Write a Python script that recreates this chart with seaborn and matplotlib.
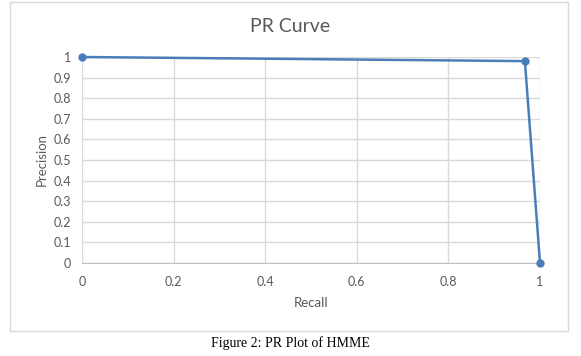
import pandas as pd
import matplotlib.pyplot as plt
import seaborn as sns
from matplotlib.patches import Rectangle

# PR curve values
recall = [0.0, 0.967, 1.0]
precision = [1.0, 0.98, 0.0]
x_ticks = [0, 0.2, 0.4, 0.6, 0.8, 1]
y_ticks = [0, 0.1, 0.2, 0.3, 0.4, 0.5, 0.6, 0.7, 0.8, 0.9, 1]

df = pd.DataFrame({'Recall': recall, 'Precision': precision})

sns.set_style('white')
plt.rcParams['font.family'] = ['Lato', 'DejaVu Sans']

fig = plt.figure(figsize=(5.81, 3.56), dpi=100)

# chart border like the excel frame
fig.patches.append(Rectangle((10 / 581, 25 / 356), 558 / 581, 329 / 356,
                             transform=fig.transFigure, fill=False,
                             edgecolor='#d9d9d9', linewidth=1))

ax = fig.add_axes([82 / 581, 93 / 356, 458 / 581, 206 / 356])
sns.lineplot(data=df, x='Recall', y='Precision', ax=ax, color='#4a7ebb',
             linewidth=1.8, marker='o', markersize=6, markeredgewidth=0,
             sort=False, clip_on=False, zorder=5)

ax.set_xlim(0, 1)
ax.set_ylim(0, 1)
ax.set_xticks(x_ticks)
ax.set_yticks(y_ticks)
ax.set_xticklabels([f'{t:g}' for t in x_ticks])
ax.set_yticklabels([f'{t:g}' for t in y_ticks])
ax.grid(True, color='#d9d9d9', linewidth=1)
ax.set_axisbelow(True)
for side in ['top', 'right', 'left']:
    ax.spines[side].set_visible(False)
ax.spines['bottom'].set_color('#bfbfbf')
ax.tick_params(axis='both', length=0, labelsize=9, colors='#595959')
ax.tick_params(axis='x', pad=9)
ax.tick_params(axis='y', pad=8)

ax.set_xlabel('Recall', fontsize=9.5, color='#595959', labelpad=7)
ax.set_ylabel('Precision', fontsize=9.5, color='#595959', labelpad=4)
fig.text(290 / 581, 1 - 27 / 356, 'PR Curve', ha='center', va='center',
         fontsize=14, color='#595959')

fig.text(290 / 581, 1 - 343 / 356, 'Figure 2: PR Plot of HMME', ha='center',
         va='center', fontsize=10, color='black', family='Liberation Serif')

plt.savefig('out.png', dpi=100)
plt.close()
